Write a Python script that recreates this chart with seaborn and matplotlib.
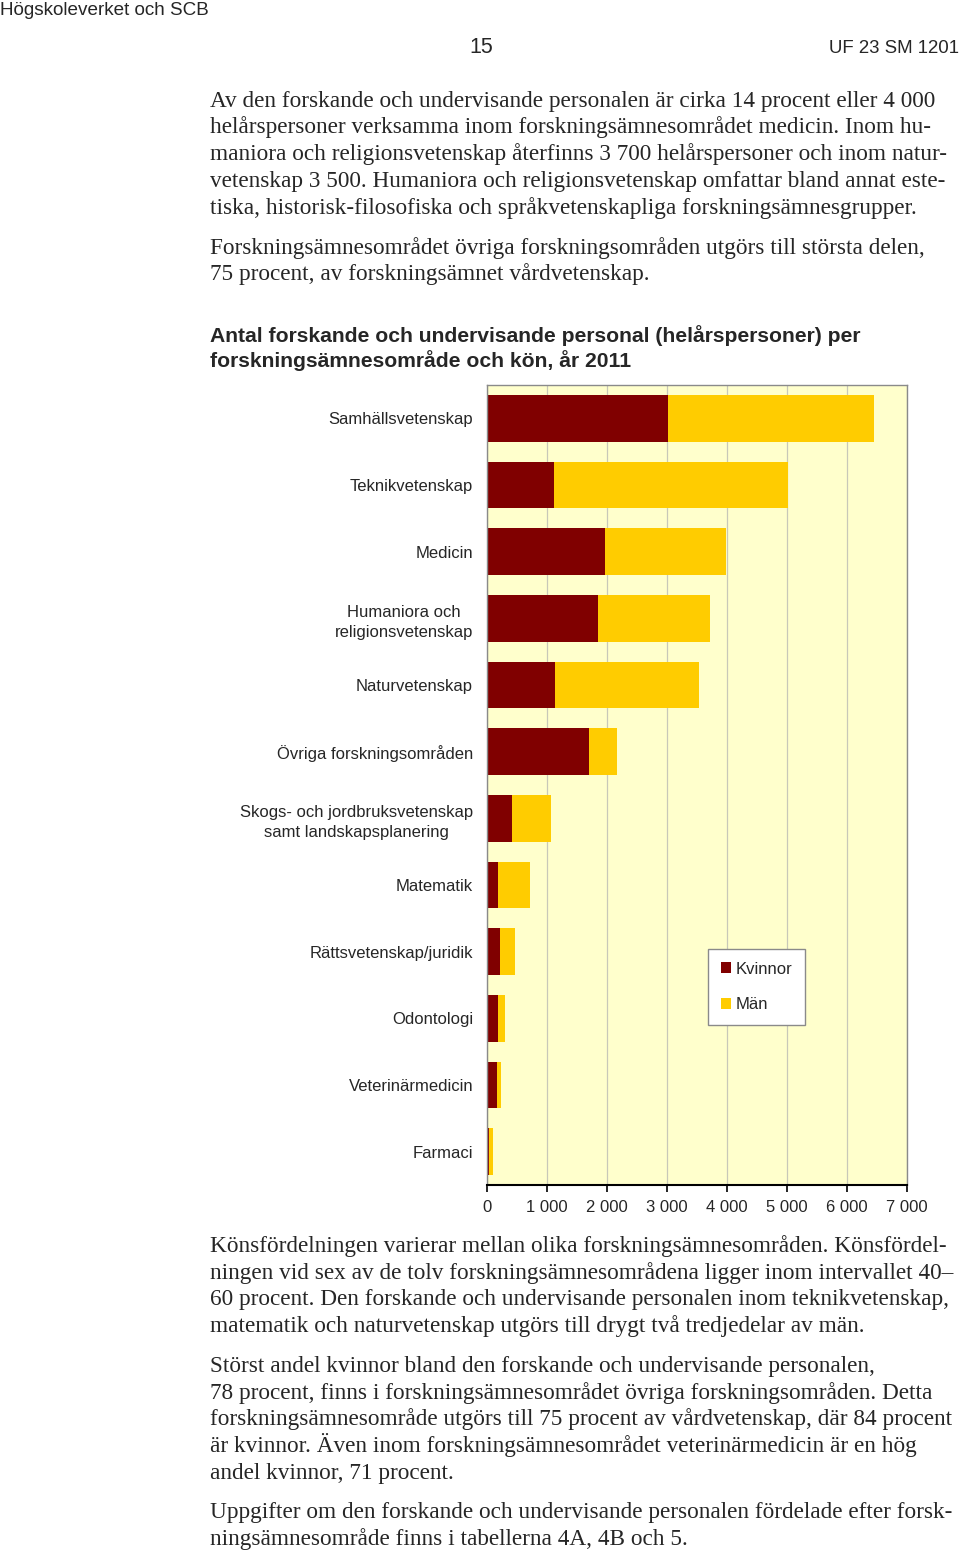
import matplotlib
matplotlib.use("Agg")
import matplotlib.pyplot as plt
import seaborn as sns
import pandas as pd
from matplotlib.ticker import FixedLocator, FuncFormatter

# ---------------- data ----------------
categories = [
    "Samhällsvetenskap",
    "Teknikvetenskap",
    "Medicin",
    "Humaniora och\nreligionsvetenskap",
    "Naturvetenskap",
    "Övriga forskningsområden",
    "Skogs- och jordbruksvetenskap\nsamt landskapsplanering",
    "Matematik",
    "Rättsvetenskap/juridik",
    "Odontologi",
    "Veterinärmedicin",
    "Farmaci",
]
kvinnor = [3015, 1120, 1960, 1845, 1130, 1700, 415, 185, 210, 180, 165, 40]
man = [3430, 3895, 2020, 1870, 2410, 470, 645, 525, 260, 125, 60, 65]
xticks = [0, 1000, 2000, 3000, 4000, 5000, 6000, 7000]
series_labels = ["Kvinnor", "Män"]

title_lines = [
    "Antal forskande och undervisande personal (helårspersoner) per",
    "forskningsämnesområde och kön, år 2011",
]
para_top = [
    ["Av den forskande och undervisande personalen är cirka 14 procent eller 4 000",
     "helårspersoner verksamma inom forskningsämnesområdet medicin. Inom hu-",
     "maniora och religionsvetenskap återfinns 3 700 helårspersoner och inom natur-",
     "vetenskap 3 500. Humaniora och religionsvetenskap omfattar bland annat este-",
     "tiska, historisk-filosofiska och språkvetenskapliga forskningsämnesgrupper."],
    ["Forskningsämnesområdet övriga forskningsområden utgörs till största delen,",
     "75 procent, av forskningsämnet vårdvetenskap."],
]
para_bottom = [
    ["Könsfördelningen varierar mellan olika forskningsämnesområden. Könsfördel-",
     "ningen vid sex av de tolv forskningsämnesområdena ligger inom intervallet 40–",
     "60 procent. Den forskande och undervisande personalen inom teknikvetenskap,",
     "matematik och naturvetenskap utgörs till drygt två tredjedelar av män."],
    ["Störst andel kvinnor bland den forskande och undervisande personalen,",
     "78 procent, finns i forskningsämnesområdet övriga forskningsområden. Detta",
     "forskningsämnesområde utgörs till 75 procent av vårdvetenskap, där 84 procent",
     "är kvinnor. Även inom forskningsämnesområdet veterinärmedicin är en hög",
     "andel kvinnor, 71 procent."],
    ["Uppgifter om den forskande och undervisande personalen fördelade efter forsk-",
     "ningsämnesområde finns i tabellerna 4A, 4B och 5."],
]

# ---------------- style ----------------
sns.set_style("white")
plt.rcParams["font.family"] = ["Liberation Sans", "DejaVu Sans"]
SERIF = ["Liberation Serif", "DejaVu Serif"]

C_WOMEN = "#800000"
C_MEN = "#FFCC00"
C_BG = "#FFFFCC"

W, H = 960, 1550
DY = 2.5      # small vertical correction for centred header text
BASE = 7.0    # baseline offset below a text line's visual centre
fig = plt.figure(figsize=(W / 100, H / 100), dpi=100)
fig.patch.set_facecolor("white")
renderer = fig.canvas.get_renderer()


def fx(px):
    return px / W


def fy(py):
    return 1 - py / H


def fitted_size(s, target_w, base=14, **kw):
    t = fig.text(0, 0, s, fontsize=base, **kw)
    w = t.get_window_extent(renderer).width
    t.remove()
    return base * target_w / w


# ---------------- page header ----------------
fig.text(fx(0), fy(8 + DY), "Högskoleverket och SCB", fontsize=13.6, va="center", ha="left")
fig.text(fx(481), fy(45 + DY), "15", fontsize=15.5, va="center", ha="center")
fig.text(fx(959), fy(46 + DY), "UF 23 SM 1201", fontsize=13.4, va="center", ha="right")

# ---------------- body text ----------------
body_size = fitted_size(para_top[0][0], 728, family=SERIF)
top_ys = [[100, 126.5, 153, 180, 207], [247, 273]]
for lines, ys in zip(para_top, top_ys):
    for s, y in zip(lines, ys):
        fig.text(fx(210), fy(y + BASE), s, fontsize=body_size, family=SERIF,
                 va="baseline", ha="left")

bottom_ys = [[1245, 1271.5, 1298, 1325], [1365, 1391.5, 1418, 1445, 1471.5], [1511, 1538]]
for lines, ys in zip(para_bottom, bottom_ys):
    for s, y in zip(lines, ys):
        fig.text(fx(210), fy(y + BASE), s, fontsize=body_size, family=SERIF,
                 va="baseline", ha="left")

# ---------------- chart title ----------------
title_size = fitted_size(title_lines[0], 652, weight="bold")
for s, y in zip(title_lines, [335, 360]):
    fig.text(fx(210), fy(y + BASE), s, fontsize=title_size, weight="bold",
             va="baseline", ha="left")

# ---------------- chart ----------------
df = pd.DataFrame({"Område": categories, "Kvinnor": kvinnor, "Män": man})
df["Totalt"] = df["Kvinnor"] + df["Män"]

ax = fig.add_axes([487 / W, 1 - 1185 / H, (907 - 487) / W, (1185 - 385) / H])
ax.set_facecolor(C_BG)
ax.set_axisbelow(True)

sns.barplot(data=df, x="Totalt", y="Område", orient="h", color=C_MEN,
            saturation=1, width=0.7, linewidth=0, label=series_labels[1], ax=ax)
sns.barplot(data=df, x="Kvinnor", y="Område", orient="h", color=C_WOMEN,
            saturation=1, width=0.7, linewidth=0, label=series_labels[0], ax=ax)

ax.set_xlim(xticks[0], xticks[-1])
ax.xaxis.set_major_locator(FixedLocator(xticks))
ax.xaxis.set_major_formatter(FuncFormatter(lambda v, p: f"{int(v):,}".replace(",", " ")))
ax.set_xlabel("")
ax.set_ylabel("")
ax.grid(axis="x", color="#c8c8b8", linewidth=0.9)
ax.grid(axis="y", visible=False)

for side in ["top", "right", "left"]:
    ax.spines[side].set_color("#8a8a8a")
    ax.spines[side].set_linewidth(1.0)
ax.spines["bottom"].set_color("black")
ax.spines["bottom"].set_linewidth(1.5)

ax.tick_params(axis="x", direction="out", length=5, width=1.2, color="black",
               labelsize=12, pad=6, bottom=True)
ax.tick_params(axis="y", length=0, labelsize=12, pad=10)
for lbl in ax.get_yticklabels():
    lbl.set_multialignment("center")
    lbl.set_linespacing(1.4)

handles, labels = ax.get_legend_handles_labels()
order = [labels.index(series_labels[0]), labels.index(series_labels[1])]
leg = ax.legend([handles[i] for i in order], [labels[i] for i in order],
                loc="upper left", bbox_to_anchor=(708 / W, 1 - 949 / H),
                bbox_transform=fig.transFigure, fontsize=12,
                frameon=True, fancybox=False, edgecolor="#8a8a8a",
                facecolor="white", framealpha=1,
                handlelength=0.6, handleheight=0.6, handletextpad=0.3,
                labelspacing=1.25, borderpad=0.75, borderaxespad=0)
leg.get_frame().set_linewidth(1.0)

fig.savefig("out.png", dpi=100, facecolor="white")
